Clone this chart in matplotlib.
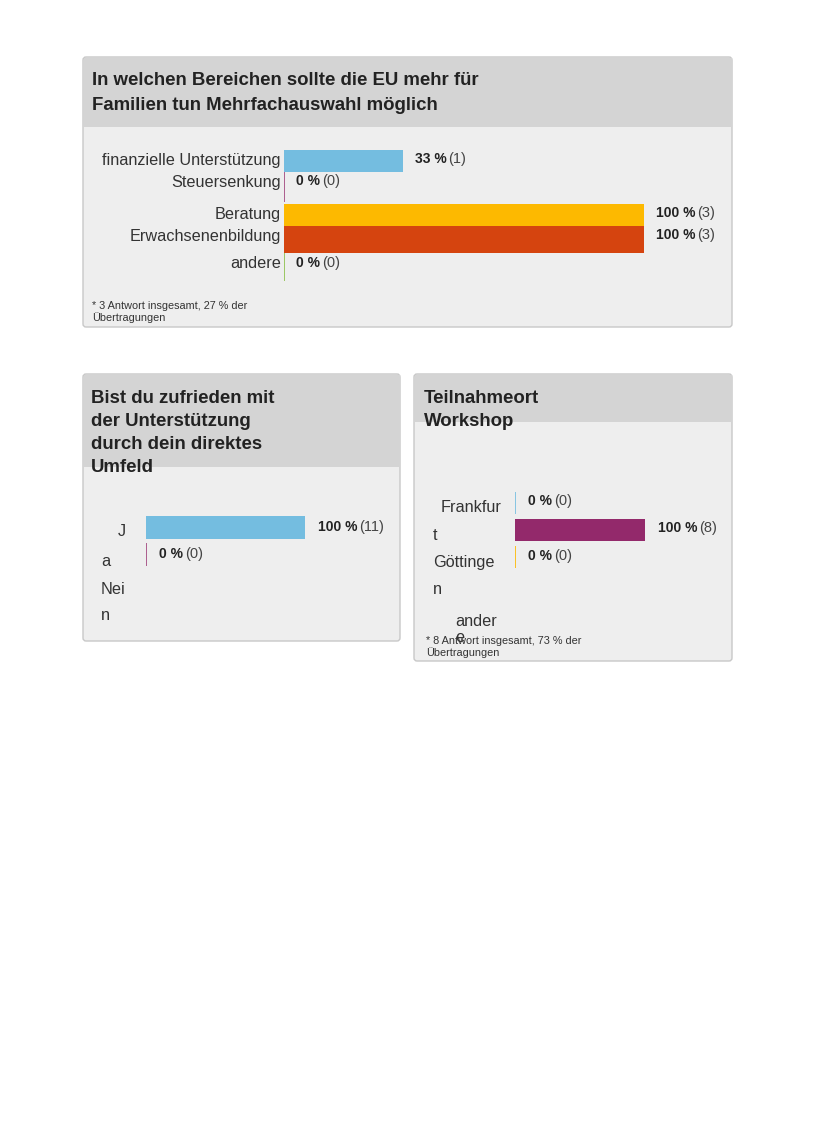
import matplotlib
matplotlib.use('Agg')
import matplotlib.pyplot as plt
from matplotlib.patches import FancyBboxPatch, Rectangle

plt.rcParams['font.family'] = ['Liberation Sans', 'DejaVu Sans']

# --- data ---------------------------------------------------------------
eu_title = 'In welchen Bereichen sollte die EU mehr für\nFamilien tun Mehrfachauswahl möglich'
eu_categories = ['finanzielle Unterstützung', 'Steuersenkung', 'Beratung',
                 'Erwachsenenbildung', 'andere']
eu_percent = [33, 0, 100, 100, 0]
eu_counts = [1, 0, 3, 3, 0]
eu_note = '* 3 Antwort insgesamt, 27 % der\nÜbertragungen'

sat_title = 'Bist du zufrieden mit\nder Unterstützung\ndurch dein direktes\nUmfeld'
sat_categories = ['Ja', 'Nein']
sat_label_lines = ['J', 'a', 'Nei', 'n']
sat_percent = [100, 0]
sat_counts = [11, 0]

loc_title = 'Teilnahmeort\nWorkshop'
loc_categories = ['Frankfurt', 'Göttingen', 'andere']
loc_label_lines = ['Frankfur', 't', 'Göttinge', 'n', 'ander', 'e']
loc_percent = [0, 100, 0]
loc_counts = [0, 8, 0]
loc_note = '* 8 Antwort insgesamt, 73 % der\nÜbertragungen'

# --- styles / layout (pixels, top-left origin) ---------------------------
W, H = 814, 1121
HEADER = '#d4d4d4'
BODY = '#eeeeee'
EDGE = '#c8c8c8'
TXT = '#333333'
TITLE_FS = 13.4
LABEL_FS = 11.7
VALUE_FS = 10
NOTE_FS = 7.8

eu_colors = ['#74bde0', '#a0447c', '#fdb900', '#d5440f', '#8cc04a']
eu_bars = [(150, 172), (172, 202), (204, 226), (226, 253), (253, 281)]
eu_text_y = [160, 182, 214, 236, 263]
eu_value_y = [159, 181, 213, 235, 263]

sat_colors = ['#74bde0', '#a0447c']
sat_bars = [(516, 539), (543, 566)]
sat_value_y = [527, 554]
sat_line_pos = [(118, 531), (101, 562), (101, 589), (101, 615)]

loc_colors = ['#74bde0', '#93296b', '#fdb900']
loc_bars = [(492, 514), (519, 541), (546, 568)]
loc_value_y = [501, 528, 556]
loc_line_pos = [(441, 507), (433, 536), (433, 563), (433, 590), (455, 622), (455, 638)]

fig = plt.figure(figsize=(W / 100, H / 100), dpi=100, facecolor='white')
base = fig.add_axes([0, 0, 1, 1])
base.set_xlim(0, W)
base.set_ylim(H, 0)
base.axis('off')


def panel(x0, y0, x1, y1, header_bottom):
    base.add_patch(FancyBboxPatch((x0, y0), x1 - x0, y1 - y0,
                                  boxstyle='round,pad=0,rounding_size=3',
                                  facecolor=BODY, edgecolor=EDGE, lw=1))
    base.add_patch(Rectangle((x0 + 0.5, y0 + 0.5), x1 - x0 - 1, header_bottom - y0,
                             facecolor=HEADER, edgecolor='none'))


def bar_axes(x_left, x_right):
    ax = fig.add_axes([x_left / W, 0, (x_right - x_left) / W, 1])
    ax.set_xlim(0, 100)
    ax.set_ylim(H, 0)
    ax.axis('off')
    ax.patch.set_alpha(0)
    return ax


def draw_bars(ax, values, counts, bars, colors, value_y, offset):
    labels = []
    for v, n, (top, bot), c, vy in zip(values, counts, bars, colors, value_y):
        if v == 0:
            ax.vlines(v, top, bot, color=c, lw=1.2)
        else:
            ax.barh((top + bot) / 2, v, height=bot - top, left=0, color=c)
        t = ax.annotate('%d %%' % v, (v, vy), xytext=(offset, 0),
                        textcoords='offset pixels', ha='left', va='center',
                        fontsize=VALUE_FS, fontweight='bold', color='#222222')
        labels.append((t, n, vy))
    return labels


# panel 1
panel(83, 57, 732, 327, 126)
base.text(92, 93, eu_title, fontsize=TITLE_FS, fontweight='bold', color='#222222',
          va='center', linespacing=1.55)
for lab, y in zip(eu_categories, eu_text_y):
    base.text(281, y, lab, fontsize=LABEL_FS, color=TXT, ha='right', va='center')
base.text(92, 312, eu_note, fontsize=NOTE_FS, color=TXT, va='center', linespacing=1.2)
ax1 = bar_axes(284, 644)
value_labels = draw_bars(ax1, eu_percent, eu_counts, eu_bars, eu_colors, eu_value_y, 12)

# panel 2
panel(83, 374, 400, 641, 466)
base.text(91, 433, sat_title, fontsize=TITLE_FS, fontweight='bold', color='#222222',
          va='center', linespacing=1.45)
for lab, (x, y) in zip(sat_label_lines, sat_line_pos):
    base.text(x, y, lab, fontsize=LABEL_FS, color=TXT, ha='left', va='center')
ax2 = bar_axes(146, 305)
value_labels += draw_bars(ax2, sat_percent, sat_counts, sat_bars, sat_colors, sat_value_y, 13)

# panel 3
panel(414, 374, 732, 661, 421)
base.text(424, 410, loc_title, fontsize=TITLE_FS, fontweight='bold', color='#222222',
          va='center', linespacing=1.45)
for lab, (x, y) in zip(loc_label_lines, loc_line_pos):
    base.text(x, y, lab, fontsize=LABEL_FS, color=TXT, ha='left', va='center')
base.text(426, 647, loc_note, fontsize=NOTE_FS, color=TXT, va='center', linespacing=1.2)
ax3 = bar_axes(515, 645)
value_labels += draw_bars(ax3, loc_percent, loc_counts, loc_bars, loc_colors, loc_value_y, 13)

# regular "(n)" after each bold percentage
fig.canvas.draw()
renderer = fig.canvas.get_renderer()
for t, n, vy in value_labels:
    ext = t.get_window_extent(renderer)
    base.text(ext.x1 + 2, vy, '(%d)' % n, fontsize=VALUE_FS + 0.5, color='#444444',
              ha='left', va='center')

fig.savefig('out.png', dpi=100, facecolor='white')
